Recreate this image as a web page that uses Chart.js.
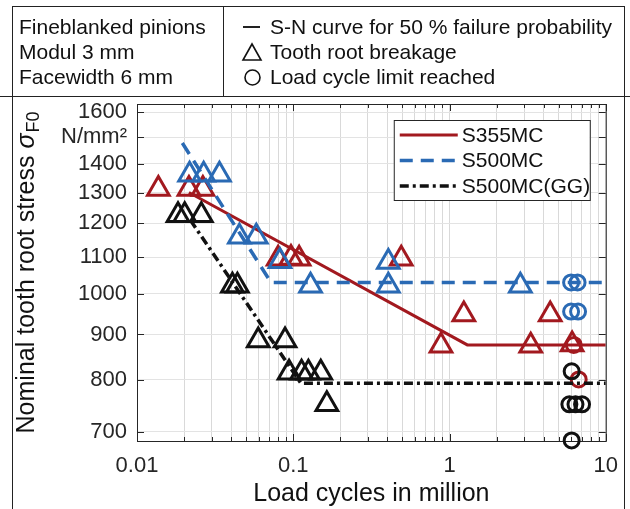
<!DOCTYPE html>
<html>
<head>
<meta charset="utf-8">
<script src="https://cdn.jsdelivr.net/npm/chart.js@4/dist/chart.umd.min.js"></script>
<style>
html, body { margin: 0; padding: 0; background: #fff; }
#wrap { position: relative; width: 630px; height: 509px; overflow: hidden;
        font-family: "Liberation Sans", Arial, Helvetica, sans-serif; color: #111; }
#wrap canvas { position: absolute; left: 0; top: 0; }
.ln { position: absolute; background: #222; }
.txt { position: absolute; font-size: 21px; line-height: 25px; white-space: nowrap; }
.sym { position: absolute; }
</style>
</head>
<body>
<div id="wrap">
  <canvas id="myChart" width="630" height="509"></canvas>

  <!-- header table -->
  <div class="ln" style="left:12px;top:6px;width:613px;height:1px"></div>
  <div class="ln" style="left:0;top:96px;width:630px;height:1px"></div>
  <div class="ln" style="left:12px;top:6px;width:1px;height:503px"></div>
  <div class="ln" style="left:624px;top:6px;width:1px;height:503px"></div>
  <div class="ln" style="left:223px;top:6px;width:1px;height:90px"></div>

  <div class="txt" style="left:19px;top:14px">Fineblanked pinions<br>Modul 3 mm<br>Facewidth 6 mm</div>

  <div class="ln" style="left:243px;top:26px;width:17px;height:2px"></div>
  <svg class="sym" style="left:241px;top:42px" width="22" height="20">
    <polygon points="11,2 20,18 2,18" fill="none" stroke="#111" stroke-width="1.6"/>
  </svg>
  <svg class="sym" style="left:243px;top:68px" width="19" height="19">
    <circle cx="9.5" cy="9.5" r="7.5" fill="none" stroke="#111" stroke-width="1.6"/>
  </svg>
  <div class="txt" style="left:270px;top:14px">S-N curve for 50 % failure probability<br>Tooth root breakage<br>Load cycle limit reached</div>
</div>

<script>
// S-N curves (50 % failure probability)
const s355LineX = [0.0215, 1.3, 10];
const s355LineY = [1300, 876, 876];
const s500LineX = [0.0195, 0.072, 10];
const s500LineY = [1478, 1030, 1030];
const ggLineX = [0.022, 0.112, 10];
const ggLineY = [1210, 793, 793];

// tooth root breakage (triangles)
const s355BreakX = [0.0137, 0.0215, 0.0264, 0.080, 0.0967, 0.109, 0.491, 0.882, 1.235, 3.31, 4.41, 6.09];
const s355BreakY = [1312, 1312, 1312, 1095, 1097, 1095, 1095, 874, 948, 874, 948, 877];
const s500BreakX = [0.0217, 0.0267, 0.0337, 0.0452, 0.058, 0.0822, 0.129, 0.406, 0.406, 2.84];
const s500BreakY = [1361, 1361, 1361, 1159, 1159, 1088, 1021, 1086, 1021, 1021];
const ggBreakX = [0.0183, 0.0202, 0.0258, 0.0408, 0.0439, 0.0597, 0.0886, 0.094, 0.113, 0.125, 0.150, 0.164];
const ggBreakY = [1226, 1226, 1226, 1021, 1021, 886, 886, 815, 815, 815, 815, 751];

// load cycle limit reached (circles)
const s355RunX = [6.24, 6.71];
const s355RunY = [876, 801];
const s500RunX = [6.0, 6.6, 6.0, 6.65];
const s500RunY = [1030, 1030, 955, 955];
const ggRunX = [6.05, 5.85, 6.4, 7.05, 6.05];
const ggRunY = [818, 751, 751, 751, 684];

// axes
const xGridVals = [0.01, 0.02, 0.03, 0.04, 0.05, 0.06, 0.07, 0.08, 0.09,
                   0.1, 0.2, 0.3, 0.4, 0.5, 0.6, 0.7, 0.8, 0.9,
                   1, 2, 3, 4, 5, 6, 7, 8, 9, 10];
const xTickVals = [0.01, 0.1, 1, 10];
const xTickLabels = ['0.01', '0.1', '1', '10'];
const yTickVals = [700, 800, 900, 1000, 1100, 1200, 1300, 1400, 1500, 1600];
const yTickLabels = ['700', '800', '900', '1000', '1100', '1200', '1300', '1400', 'N/mm²', '1600'];

const RED = '#a2191f';
const BLUE = '#2a6ab4';
const BLACK = '#111111';
const AXIS = '#262626';
const FONT = '"Liberation Sans", Arial, Helvetica, sans-serif';

Chart.defaults.font.family = FONT;

const pts = (xs, ys) => xs.map((x, i) => ({ x: x, y: ys[i] }));

const lineSet = (label, xs, ys, color, width, dash, order) => ({
    label: label, inLegend: true, type: 'line', data: pts(xs, ys),
    borderColor: color, backgroundColor: color, borderWidth: width, borderDash: dash,
    pointRadius: 0, fill: false, tension: 0, order: order
});
const markSet = (label, xs, ys, color, style, radius, order) => ({
    label: label, data: pts(xs, ys), pointStyle: style, pointRadius: radius,
    pointBorderWidth: 3, borderColor: color, backgroundColor: 'rgba(0,0,0,0)',
    clip: false, order: order
});

// box with inward ticks
const frame = {
    id: 'frame',
    beforeDatasetsDraw(chart) {
        const { ctx, chartArea: a, scales } = chart;
        ctx.save();
        ctx.strokeStyle = AXIS;
        ctx.lineWidth = 1;
        ctx.strokeRect(a.left + 0.5, a.top + 0.5, a.right - a.left, a.bottom - a.top);
        ctx.beginPath();
        scales.x.ticks.forEach(t => {
            const px = Math.round(scales.x.getPixelForValue(t.value)) + 0.5;
            const len = xTickVals.includes(t.value) ? 7 : 4;
            ctx.moveTo(px, a.bottom); ctx.lineTo(px, a.bottom - len);
            ctx.moveTo(px, a.top); ctx.lineTo(px, a.top + len);
        });
        scales.y.ticks.forEach(t => {
            const py = Math.round(scales.y.getPixelForValue(t.value)) + 0.5;
            ctx.moveTo(a.left, py); ctx.lineTo(a.left + 7, py);
            ctx.moveTo(a.right, py); ctx.lineTo(a.right - 7, py);
        });
        ctx.stroke();
        ctx.restore();
    }
};

// y title with subscript
const yTitle = {
    id: 'yTitle',
    afterDraw(chart) {
        const { ctx, chartArea: a } = chart;
        const main = 'Nominal tooth root stress ';
        ctx.save();
        ctx.fillStyle = BLACK;
        ctx.textBaseline = 'middle';
        ctx.font = '25px ' + FONT;
        const w1 = ctx.measureText(main).width;
        ctx.font = 'italic 25px ' + FONT;
        const w2 = ctx.measureText('σ').width;
        ctx.font = '18px ' + FONT;
        const w3 = ctx.measureText('F0').width;
        const total = w1 + w2 + w3 + 1;
        ctx.translate(27, (a.top + a.bottom) / 2);
        ctx.rotate(-Math.PI / 2);
        let x = -total / 2;
        ctx.textAlign = 'left';
        ctx.font = '25px ' + FONT;
        ctx.fillText(main, x, 0);
        x += w1;
        ctx.font = 'italic 25px ' + FONT;
        ctx.fillText('σ', x, 0);
        x += w2 + 1;
        ctx.font = '18px ' + FONT;
        ctx.fillText('F0', x, 7);
        ctx.restore();
    }
};

// legend inside the plot
const legendBox = {
    id: 'legendBox',
    afterDatasetsDraw(chart) {
        const ctx = chart.ctx;
        const a = chart.chartArea;
        const items = chart.data.datasets.filter(d => d.inLegend);
        const bx = a.right - 212, by = a.top + 16, bw = 196, bh = 80;
        ctx.save();
        ctx.fillStyle = '#fff';
        ctx.fillRect(bx, by, bw, bh);
        ctx.strokeStyle = AXIS;
        ctx.lineWidth = 1;
        ctx.strokeRect(bx + 0.5, by + 0.5, bw, bh);
        ctx.font = '21px ' + FONT;
        ctx.textBaseline = 'middle';
        items.forEach((d, i) => {
            const y = by + 15 + i * 25.5;
            ctx.beginPath();
            ctx.setLineDash(d.borderDash || []);
            ctx.strokeStyle = d.borderColor;
            ctx.lineWidth = d.borderWidth;
            ctx.moveTo(bx + 6, y);
            ctx.lineTo(bx + 64, y);
            ctx.stroke();
            ctx.setLineDash([]);
            ctx.fillStyle = BLACK;
            ctx.fillText(d.label, bx + 68, y + 1);
        });
        ctx.restore();
    }
};

const ctx = document.getElementById('myChart').getContext('2d');
const myChart = new Chart(ctx, {
    type: 'scatter',
    data: {
        datasets: [
            lineSet('S355MC', s355LineX, s355LineY, RED, 3, [], 7),
            lineSet('S500MC', s500LineX, s500LineY, BLUE, 3.5, [13, 8], 4),
            lineSet('S500MC(GG)', ggLineX, ggLineY, BLACK, 3.5, [9, 4, 3, 4], 1),
            markSet('S355MC breakage', s355BreakX, s355BreakY, RED, 'triangle', 12.5, 9),
            markSet('S355MC runout', s355RunX, s355RunY, RED, 'circle', 7.5, 8),
            markSet('S500MC breakage', s500BreakX, s500BreakY, BLUE, 'triangle', 12.5, 6),
            markSet('S500MC runout', s500RunX, s500RunY, BLUE, 'circle', 7.5, 5),
            markSet('S500MC(GG) breakage', ggBreakX, ggBreakY, BLACK, 'triangle', 12.5, 3),
            markSet('S500MC(GG) runout', ggRunX, ggRunY, BLACK, 'circle', 7.5, 2)
        ]
    },
    options: {
        responsive: false,
        animation: false,
        layout: { padding: { left: 0, top: 104, right: 21, bottom: 0 } },
        plugins: { legend: { display: false }, tooltip: { enabled: false } },
        scales: {
            x: {
                type: 'logarithmic', min: 0.01, max: 10,
                afterFit: s => { s.height = 68; },
                afterBuildTicks: s => { s.ticks = xGridVals.map(v => ({ value: v })); },
                ticks: {
                    autoSkip: false, maxRotation: 0, padding: 12, color: AXIS,
                    font: { size: 22 },
                    callback: v => { const i = xTickVals.indexOf(v); return i < 0 ? '' : xTickLabels[i]; }
                },
                grid: { color: '#d9d9d9', drawTicks: false },
                border: { display: false },
                title: { display: true, text: 'Load cycles in million', color: BLACK,
                         font: { size: 25, lineHeight: 1.2 }, padding: 0 }
            },
            y: {
                type: 'logarithmic', min: 683, max: 1635,
                afterFit: s => { s.width = 137; },
                afterBuildTicks: s => { s.ticks = yTickVals.map(v => ({ value: v })); },
                ticks: {
                    autoSkip: false, padding: 10, color: AXIS,
                    font: { size: 22 },
                    callback: v => { const i = yTickVals.indexOf(v); return i < 0 ? '' : yTickLabels[i]; }
                },
                grid: { color: '#e3e3e3', drawTicks: false },
                border: { display: false }
            }
        }
    },
    plugins: [frame, legendBox, yTitle]
});
</script>
</body>
</html>
